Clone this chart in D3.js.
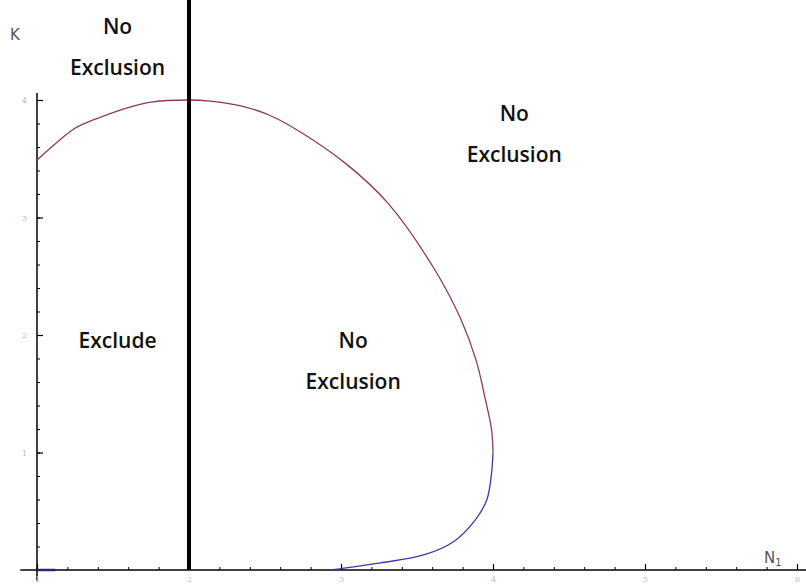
<!DOCTYPE html>
<html>
<head>
<meta charset="utf-8">
<script src="https://cdn.jsdelivr.net/npm/d3@7"></script>
<style>
  body { margin: 0; background: #fff; }
  svg { display: block; }
  .region { font-family: "Open Sans", sans-serif; font-weight: 600; font-size: 21px; fill: #111; }
  .tick text { font-family: "DejaVu Serif", serif; font-size: 8px; fill: #bbb; }
</style>
</head>
<body>
<svg width="806" height="586"></svg>
<script>
// upper branch of the boundary (N1, K)
const upperN = [1.0, 1.15, 1.25, 1.41, 1.61, 1.74, 2.0, 2.14, 2.34, 2.53, 2.73, 3.04, 3.31, 3.61, 3.79, 3.89, 3.95, 3.99, 4.0];
const upperK = [3.49, 3.66, 3.76, 3.85, 3.94, 3.98, 4.0, 3.99, 3.95, 3.87, 3.73, 3.45, 3.12, 2.57, 2.13, 1.78, 1.45, 1.2, 1.0];
// lower branch
const lowerN = [4.0, 3.99, 3.96, 3.88, 3.74, 3.55, 3.26, 2.99, 2.93];
const lowerK = [1.0, 0.82, 0.6, 0.42, 0.24, 0.13, 0.06, 0.01, 0.0];
// short piece sitting on K = 0 near the origin
const baseN = [1.0, 1.12];
const baseK = [0.0, 0.0];

const xTicks = [1, 2, 3, 4, 5, 6];
const yTicks = [1, 2, 3, 4];
const divider = 2; // N1 value of the thick vertical line

const labels = [
  {lines: ['No', 'Exclusion'], n: 1.53, k: 4.56},
  {lines: ['Exclude'], n: 1.53, k: 1.89},
  {lines: ['No', 'Exclusion'], n: 3.08, k: 1.89},
  {lines: ['No', 'Exclusion'], n: 4.14, k: 3.82}
];

const svg = d3.select('svg');

const x = d3.scaleLinear().domain([1, 6]).range([37, 797]);
const y = d3.scaleLinear().domain([0, 4]).range([570, 100]);

const zip = (a, b) => a.map((v, i) => [v, b[i]]);
const line = d3.line().x(d => x(d[0])).y(d => y(d[1])).curve(d3.curveCatmullRom);

// axis lines
svg.append('line')
  .attr('x1', x(0.89)).attr('x2', 806)
  .attr('y1', y(0)).attr('y2', y(0))
  .attr('stroke', '#000').attr('stroke-width', 1.5);
svg.append('line')
  .attr('x1', x(1)).attr('x2', x(1))
  .attr('y1', y(4.06)).attr('y2', y(-0.09))
  .attr('stroke', '#000').attr('stroke-width', 1.5);

// minor ticks
const minorX = d3.range(1, 6.001, 0.2);
const minorY = d3.range(0, 4.001, 0.2);
svg.append('g')
  .attr('transform', `translate(0,${y(0)})`)
  .call(d3.axisBottom(x).tickValues(minorX).tickSize(-3).tickFormat(''))
  .call(g => g.select('.domain').remove())
  .selectAll('line').attr('stroke', '#000');
svg.append('g')
  .attr('transform', `translate(${x(1)},0)`)
  .call(d3.axisLeft(y).tickValues(minorY).tickSize(-3).tickFormat(''))
  .call(g => g.select('.domain').remove())
  .selectAll('line').attr('stroke', '#000');

// major ticks
const xAxis = svg.append('g')
  .attr('transform', `translate(0,${y(0)})`)
  .call(d3.axisBottom(x).tickValues(xTicks).tickSize(-6).tickPadding(0).tickFormat(d3.format('d')));
xAxis.select('.domain').remove();
xAxis.selectAll('line').attr('stroke', '#000').attr('stroke-width', 1.2);
xAxis.selectAll('text').attr('y', 6).attr('dy', '0.71em');

const yAxis = svg.append('g')
  .attr('transform', `translate(${x(1)},0)`)
  .call(d3.axisLeft(y).tickValues(yTicks).tickSize(-6).tickFormat(d3.format('d')));
yAxis.select('.domain').remove();
yAxis.selectAll('line').attr('stroke', '#000').attr('stroke-width', 1.2);
yAxis.selectAll('text').attr('x', -10);

// boundary curve
svg.append('path')
  .datum(zip(upperN, upperK))
  .attr('d', line)
  .attr('fill', 'none')
  .attr('stroke', '#8a3a5c')
  .attr('stroke-width', 1.3);
svg.append('path')
  .datum(zip(lowerN, lowerK))
  .attr('d', line)
  .attr('fill', 'none')
  .attr('stroke', '#3c3c9c')
  .attr('stroke-width', 1.3);
svg.append('path')
  .datum(zip(baseN, baseK))
  .attr('d', line)
  .attr('fill', 'none')
  .attr('stroke', '#2a2a6a')
  .attr('stroke-width', 2.5);

// thick divider
svg.append('line')
  .attr('x1', x(divider)).attr('x2', x(divider))
  .attr('y1', 0).attr('y2', y(0))
  .attr('stroke', '#000').attr('stroke-width', 4);

// axis names
svg.append('text')
  .attr('x', 10).attr('y', 40)
  .attr('font-family', '"DejaVu Sans", sans-serif')
  .attr('font-size', 15).attr('fill', '#555')
  .text('K');
const nLab = svg.append('text')
  .attr('x', 764).attr('y', 563)
  .attr('font-family', '"DejaVu Sans", sans-serif')
  .attr('font-size', 15).attr('fill', '#555');
nLab.append('tspan').text('N');
nLab.append('tspan').attr('font-size', 10).attr('dy', 3).text('1');

// region labels
labels.forEach(l => {
  const t = svg.append('text')
    .attr('class', 'region')
    .attr('text-anchor', 'middle')
    .attr('x', x(l.n)).attr('y', y(l.k));
  l.lines.forEach((s, i) => {
    t.append('tspan').attr('x', x(l.n)).attr('dy', i === 0 ? 0 : 41).text(s);
  });
});
</script>
</body>
</html>
